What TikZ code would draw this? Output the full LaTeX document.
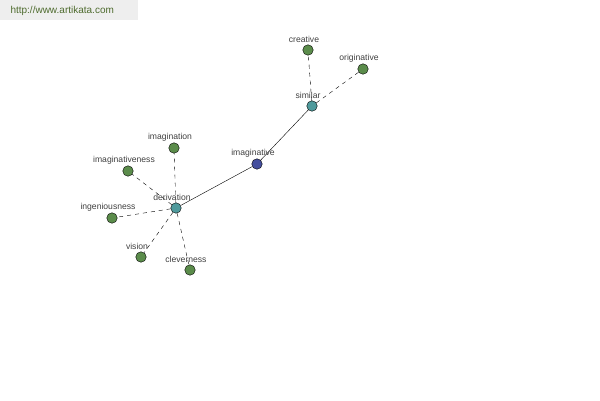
\documentclass[tikz,border=0pt]{standalone}
\usepackage{fontspec}
\setmainfont{Liberation Sans}
\definecolor{leafgreen}{HTML}{5B8C4B}
\definecolor{hubteal}{HTML}{4F9A9C}
\definecolor{rootblue}{HTML}{454F9E}
\definecolor{bannergray}{HTML}{EEEEEE}
\definecolor{bannertext}{HTML}{4E6B2E}
\tikzset{
  word/.style={circle,draw=black,line width=0.4pt,inner sep=0pt,minimum size=10.5pt},
  lab/.style={font=\fontsize{8.6}{9}\selectfont,text=black!75,inner sep=0pt},
  rel/.style={dashed,dash pattern=on 4pt off 4pt,line width=0.4pt},
}
\begin{document}
\begin{tikzpicture}[x=1pt,y=-1pt]
\useasboundingbox (0,0) rectangle (600,400);
\fill[bannergray] (0,0) rectangle (138,20);
\node[anchor=west,font=\fontsize{10}{11}\selectfont,text=bannertext] (site) at (7,11) {http://www.artikata.com};
% centre
\node[word,fill=rootblue] (imaginative) at (257,164) {};
\node[word,fill=hubteal] (similar) at (312,106) {};
\node[word,fill=hubteal] (derivation) at (176,208) {};
\draw (imaginative) -- (similar);
\draw (imaginative) -- (derivation);
% leaves
\foreach \nm/\xx/\yy/\hub in {creative/308/50/similar,originative/363/69/similar,
  imagination/174/148/derivation,imaginativeness/128/171/derivation,
  ingeniousness/112/218/derivation,vision/141/257/derivation,cleverness/190/270/derivation} {
  \node[word,fill=leafgreen] (\nm) at (\xx,\yy) {};
  \draw[rel] (\hub) -- (\nm);
}
% labels
\foreach \nm in {imaginative,similar,derivation,creative,originative,
  imagination,imaginativeness,ingeniousness,vision,cleverness} {
  \node[lab] (\nm-lab) at ([xshift=-4pt,yshift=11pt]\nm) {\nm};
}
\end{tikzpicture}
\end{document}
